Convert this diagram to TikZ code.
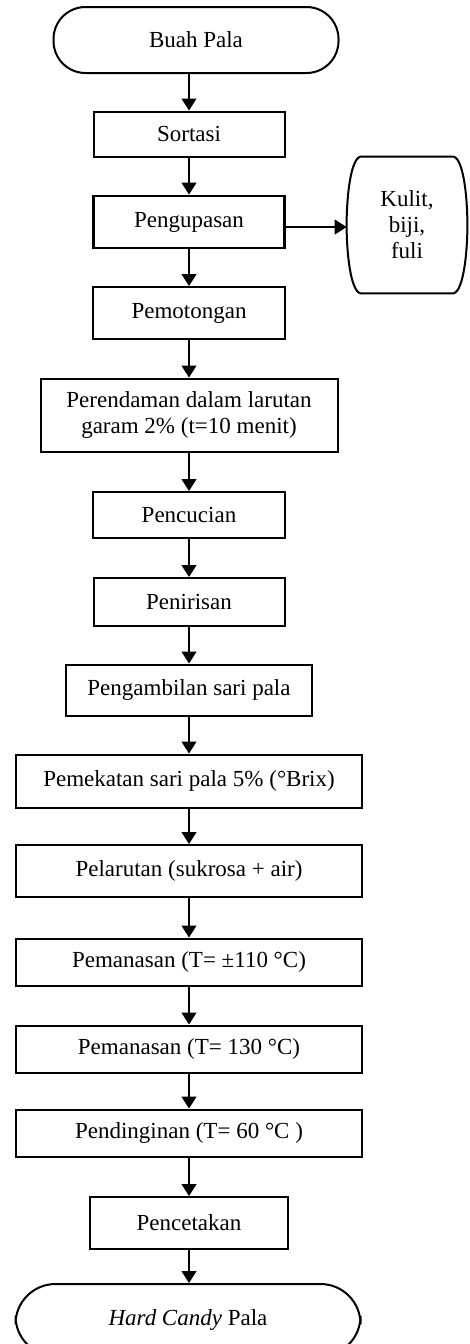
\documentclass[tikz,border=0pt]{standalone}
\usepackage{fontspec}
\setmainfont{Liberation Serif}
\usepackage{tikz}
\usetikzlibrary{arrows.meta,positioning,calc}

\begin{document}
\begin{tikzpicture}[
  x=0.5pt, y=-0.5pt,
  font=\fontsize{11.5}{13}\selectfont,
  proc/.style={draw, line width=1pt, align=center, inner sep=2pt},
  term/.style={proc, rounded corners=16pt},
  wide/.style={proc, minimum width=173pt, minimum height=23.5pt},
  flow/.style={line width=0.6pt, -{Triangle[length=6pt, width=7.5pt]}}]

\useasboundingbox (0,0) rectangle (470,1344);

% ---------------- main column ----------------
\node[term, minimum width=142.5pt, minimum height=33pt] (buah) at (196,40) {Buah Pala};
\node[proc, minimum width=95.5pt, minimum height=22.5pt] (sortasi) at (189,134) {Sortasi};
\node[proc, line width=1.4pt, minimum width=95.5pt, minimum height=26pt] (kupas) at (189,222) {Pengupasan};
\node[proc, minimum width=96pt, minimum height=26pt] (potong) at (189,313) {Pemotongan};
\node[proc, minimum width=148.5pt, minimum height=36.5pt] (rendam) at (189,415)
  {Perendaman dalam larutan\\garam 2\% (t=10 menit)};
\node[proc, minimum width=96pt, minimum height=23pt] (cuci) at (189,515) {Pencucian};
\node[proc, minimum width=95.5pt, minimum height=24pt] (tiris) at (189,602) {Penirisan};
\node[proc, minimum width=123pt, minimum height=25.5pt] (ambil) at (189,690) {Pengambilan sari pala};
\node[wide, minimum height=26.5pt] (pekat) at (189,781) {Pemekatan sari pala 5\% (°Brix)};
\node[wide, minimum height=26pt] (larut) at (189,871) {Pelarutan (sukrosa + air)};
\node[wide] (panasa) at (189,962) {Pemanasan (T= ±110 °C)};
\node[wide] (panasb) at (189,1049) {Pemanasan (T= 130 °C)};
\node[wide] (dingin) at (189,1133) {Pendinginan (T= 60 °C )};
\node[proc, minimum width=99pt, minimum height=26pt] (cetak) at (189,1223) {Pencetakan};
\node[term, rounded corners=20pt, minimum width=172.5pt, minimum height=36pt] (candy) at (188,1320)
  {\textit{Hard Candy} Pala};

% ---------------- side output ----------------
\node[align=center, minimum width=60pt, minimum height=68pt] (kulit) at (407,225) {Kulit,\\biji,\\fuli};
\draw[line width=1pt]
  ($(kulit.north west)+(7pt,0)$) -- ($(kulit.north east)+(-7pt,0)$)
  .. controls ($(kulit.north east)+(-2pt,-1pt)$) and ($(kulit.east)+(0,14pt)$) .. (kulit.east)
  .. controls ($(kulit.east)+(0,-14pt)$) and ($(kulit.south east)+(-2pt,1pt)$) .. ($(kulit.south east)+(-7pt,0)$)
  -- ($(kulit.south west)+(7pt,0)$)
  .. controls ($(kulit.south west)+(2pt,1pt)$) and ($(kulit.west)+(0,-14pt)$) .. (kulit.west)
  .. controls ($(kulit.west)+(0,14pt)$) and ($(kulit.north west)+(2pt,-1pt)$) .. cycle;

% ---------------- connectors ----------------
\draw[flow] (sortasi |- buah.south) -- (sortasi);
\foreach \a/\b in {sortasi/kupas, kupas/potong, potong/rendam, rendam/cuci,
                   cuci/tiris, tiris/ambil, ambil/pekat, pekat/larut,
                   larut/panasa, panasa/panasb, panasb/dingin, dingin/cetak}{
  \draw[flow] (\a) -- (\b);}
\draw[flow] (cetak) -- (cetak |- candy.north);
\draw[flow] (kupas.east |- 0,227) -- (kulit.west |- 0,227);
\end{tikzpicture}
\end{document}
